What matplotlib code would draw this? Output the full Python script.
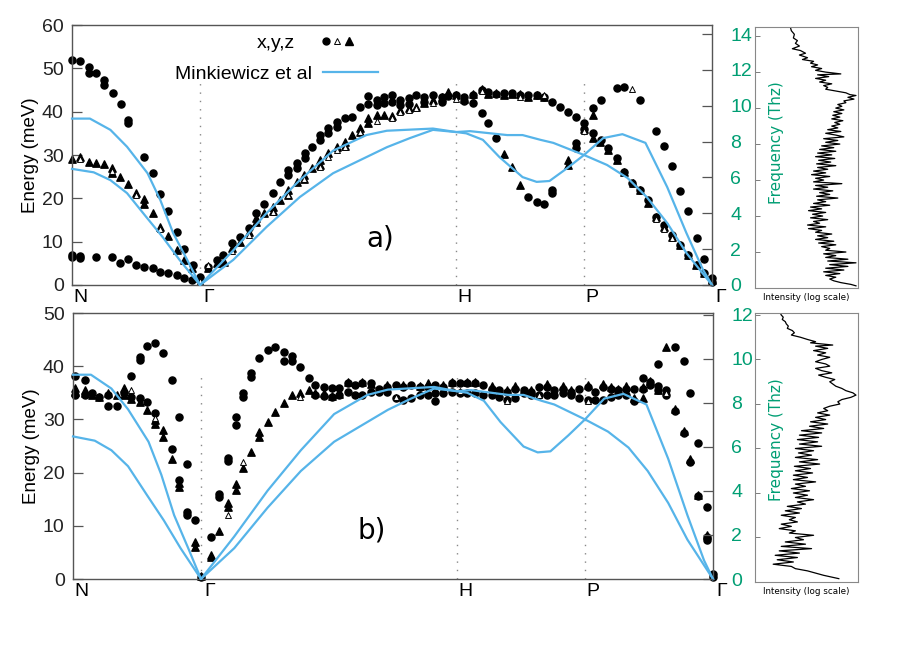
import numpy as np
import matplotlib
matplotlib.use("Agg")
import matplotlib.pyplot as plt
from matplotlib.lines import Line2D
from matplotlib.legend_handler import HandlerTuple
from matplotlib.transforms import ScaledTranslation

plt.rcParams['font.family'] = ['Liberation Sans', 'DejaVu Sans']

MEV_PER_THZ = 4.1357
GREEN = '#009E73'
BLUE = '#56B4E9'

# path positions: N=0, Gamma=1, H=3, P=4, Gamma=5
path_pos = [0, 1, 3, 4, 5]
path_labels = ['N', 'Γ', 'H', 'P', 'Γ']

# Minkiewicz et al dispersion (same curves in both panels)
mink1_q = [0, 0.14, 0.3, 0.43, 0.59, 0.69, 0.79, 0.9, 1.0, 1.26, 1.52, 1.78, 2.04, 2.3, 2.46, 2.82,
           3.0, 3.08, 3.21, 3.34, 3.52, 3.63, 3.73, 3.87, 4.0, 4.15, 4.3, 4.48, 4.65, 4.8, 4.93, 5.0]
mink1_e = [38.4, 38.4, 35.8, 31.9, 25.8, 19.6, 12.0, 5.8, 0, 8.0, 16.6, 24.2, 31.0, 34.6, 35.6, 36.1,
           35.3, 35.0, 33.5, 29.5, 24.9, 23.8, 24.0, 27.0, 30.0, 33.9, 34.8, 32.8, 22.6, 12.0, 3.5, 0]
mink2_q = [0, 0.17, 0.3, 0.43, 0.58, 0.71, 0.84, 1.0, 1.26, 1.52, 1.78, 2.04, 2.25, 2.46, 2.64, 2.82,
           3.0, 3.11, 3.4, 3.52, 3.66, 3.76, 4.0, 4.18, 4.34, 4.49, 4.65, 4.8, 5.0]
mink2_e = [26.8, 26.0, 24.2, 21.2, 15.7, 11.0, 5.8, 0, 5.8, 13.4, 20.3, 25.8, 28.8, 31.8, 33.9, 35.8,
           35.3, 35.5, 34.6, 34.6, 33.5, 32.8, 30.0, 27.7, 24.7, 20.3, 14.3, 7.4, 0]

# panel a) measured points (q, energy meV)
a_x = np.array([
    (0, 51.9), (0.06, 51.7), (0.13, 50.3), (0.13, 48.9), (0.19, 48.9), (0.25, 47.3), (0.25, 46.2),
    (0.32, 44.3), (0.38, 41.8), (0.44, 38.1), (0.44, 37.5), (0.56, 29.5), (0.63, 25.8), (0.69, 21.0),
    (0.75, 17.1), (0.82, 12.2), (0.875, 8.3), (0.945, 4.6), (1.0, 1.8),
    (0, 6.9), (0, 6.5), (0.06, 6.7), (0.06, 6.3), (0.19, 6.5), (0.31, 6.5), (0.375, 5.0), (0.44, 6.0),
    (0.5, 4.6), (0.56, 4.2), (0.63, 3.9), (0.69, 3.0), (0.75, 2.8), (0.82, 2.3), (0.875, 1.6), (0.94, 1.2),
    (1.06, 4.2), (1.13, 5.8), (1.18, 6.9), (1.25, 9.7), (1.31, 11.1), (1.38, 13.2), (1.44, 16.6),
    (1.5, 18.7), (1.57, 21.2), (1.625, 23.8), (1.69, 26.5), (1.76, 28.2), (1.82, 30.5), (1.875, 31.8),
    (1.94, 34.6), (2.0, 36.2), (2.07, 37.6), (2.13, 38.5), (2.19, 38.8), (2.25, 41.1), (2.31, 43.6),
    (2.31, 41.8), (2.38, 42.7), (2.44, 43.4), (2.5, 43.8), (2.56, 42.7), (2.63, 43.1), (2.69, 43.8),
    (2.75, 43.4), (2.82, 43.8), (2.89, 43.4), (2.94, 43.6), (3.0, 43.8), (3.06, 43.4), (3.13, 43.8),
    (3.2, 45.0), (3.25, 44.6), (3.31, 44.0), (3.375, 44.3), (3.44, 44.3), (3.5, 43.8), (3.56, 43.8),
    (3.63, 43.8), (3.69, 43.4), (3.75, 42.3), (3.81, 41.1), (3.875, 40.0), (3.94, 38.8), (4.0, 37.4),
    (1.69, 25.4), (1.76, 27.0), (1.82, 29.3), (1.94, 33.5), (2.0, 35.0), (2.07, 36.5), (2.38, 41.5),
    (2.44, 42.0), (2.5, 42.3), (2.56, 41.5), (2.63, 41.8), (2.75, 42.2), (2.89, 42.3), (3.06, 42.5),
    (4.0, 36.0),
    (4.07, 35.0), (4.13, 33.5), (4.19, 31.6), (4.26, 29.3), (4.31, 26.1), (4.375, 23.5), (4.44, 21.9),
    (4.5, 19.6), (4.56, 15.7), (4.625, 13.8), (4.69, 11.5), (4.75, 9.2), (4.81, 6.9), (4.88, 4.6),
    (4.94, 2.8), (5.0, 0.7),
    (4.07, 40.8), (4.13, 42.7), (4.26, 45.4), (4.31, 45.7), (4.44, 42.7), (4.56, 35.5), (4.625, 32.1),
    (4.69, 27.5), (4.75, 21.7), (4.81, 17.1), (4.88, 10.8), (4.94, 6.0), (5.0, 1.6),
    (3.13, 42.0), (3.2, 39.7), (3.25, 37.4), (3.31, 33.9), (3.56, 20.3), (3.63, 19.2), (3.69, 18.7),
    (3.75, 21.9), (3.75, 21.2), (3.94, 32.8), (3.94, 31.5),
])
a_y = np.array([
    (1.0, 1.0), (1.06, 4.5), (1.25, 7.8), (1.38, 11.5), (1.57, 16.8), (1.69, 20.8), (1.81, 24.4),
    (1.94, 27.3), (2.0, 29.5), (2.07, 31.2), (2.13, 31.8), (2.25, 35.2), (2.38, 37.8), (2.5, 38.6),
    (2.56, 40.0), (2.63, 40.4), (2.69, 40.8), (2.82, 42.0), (3.0, 43.0), (3.2, 44.8), (3.5, 43.5),
    (3.69, 43.8), (4.0, 35.5), (4.375, 45.2), (4.56, 15.2), (4.625, 13.0), (4.69, 10.8),
    (0.06, 29.0), (0.31, 26.3), (0.5, 20.8), (0.69, 13.0),
])
a_z = np.array([
    (0, 29.1), (0.06, 29.5), (0.13, 28.4), (0.19, 28.1), (0.25, 27.9), (0.31, 27.0), (0.31, 25.8),
    (0.375, 25.0), (0.44, 23.3), (0.5, 21.2), (0.56, 19.8), (0.56, 18.6), (0.63, 16.6), (0.69, 13.4),
    (0.75, 11.3), (0.82, 8.1), (0.875, 5.8), (0.94, 3.9), (1.0, 1.6),
    (1.06, 3.9), (1.13, 5.0), (1.19, 5.3), (1.25, 8.5), (1.31, 9.9), (1.38, 12.2), (1.44, 14.5),
    (1.5, 16.6), (1.57, 18.0), (1.625, 19.6), (1.69, 21.9), (1.76, 23.8), (1.81, 25.4), (1.875, 27.0),
    (1.94, 28.8), (2.0, 30.5), (2.07, 31.8), (2.13, 33.0), (2.19, 34.6), (2.25, 36.2), (2.31, 38.5),
    (2.38, 39.2), (2.44, 39.2), (2.5, 39.0), (2.56, 40.4), (2.63, 40.8), (2.69, 41.1), (2.75, 42.0),
    (2.82, 42.7), (2.89, 43.4), (2.94, 44.5), (3.0, 43.8), (3.06, 43.0), (3.13, 44.0), (3.2, 45.2),
    (3.25, 44.0), (3.31, 44.2), (3.375, 43.8), (3.44, 44.0), (3.5, 44.0), (3.56, 43.5), (3.63, 43.8),
    (3.69, 43.5),
    (1.44, 15.5), (1.57, 17.0), (1.69, 20.8), (1.81, 24.5), (1.94, 27.8), (2.13, 32.0), (2.25, 35.2),
    (2.31, 37.5),
    (3.375, 30.2), (3.44, 27.2), (3.5, 23.1), (3.875, 28.8), (3.875, 27.8),
    (4.0, 36.0), (4.07, 39.2), (4.07, 34.0),
    (4.125, 33.0), (4.19, 31.2), (4.26, 28.8), (4.31, 26.1), (4.38, 23.5), (4.44, 21.9), (4.5, 18.9),
    (4.56, 15.7), (4.625, 13.4), (4.69, 11.1), (4.75, 9.2), (4.81, 6.9), (4.875, 4.6), (4.94, 2.8),
    (5.0, 1.2),
])

# panel b) measured points
b_x = np.array([
    (0.016, 38.2), (0.09, 37.4), (0.016, 34.6), (0.09, 34.6), (0.15, 35.0), (0.2, 34.2), (0.27, 34.6),
    (0.27, 32.5), (0.34, 32.5), (0.4, 35.0), (0.45, 34.2), (0.52, 34.0), (0.58, 33.3),
    (0.45, 38.2), (0.52, 41.2), (0.52, 41.8), (0.58, 43.8), (0.64, 44.4), (0.70, 42.5), (0.77, 37.4),
    (0.83, 30.5), (0.89, 21.6), (0.95, 11.1), (1.0, 0.4),
    (0.64, 31.2), (0.77, 24.4), (0.83, 18.6), (0.89, 12.6), (0.89, 12.0),
    (1.08, 7.9), (1.14, 15.4), (1.14, 16.0), (1.21, 22.7), (1.21, 22.1), (1.27, 30.5), (1.27, 29.0),
    (1.33, 35.0), (1.33, 34.2), (1.39, 38.7), (1.39, 38.0), (1.45, 41.5), (1.52, 43.0), (1.58, 43.6),
    (1.65, 42.7), (1.65, 40.9), (1.71, 42.0), (1.71, 41.0), (1.77, 39.9), (1.84, 37.8), (1.89, 36.5),
    (1.96, 36.1), (2.02, 35.9), (2.08, 35.9), (1.89, 34.6), (1.96, 34.4), (2.02, 34.3), (2.08, 34.6),
    (2.15, 36.8), (2.15, 35.1), (2.2, 36.5), (2.2, 34.6), (2.26, 36.8), (2.26, 34.6), (2.33, 36.8),
    (2.33, 35.2), (2.39, 35.8), (2.39, 35.2), (2.45, 36.1), (2.45, 35.2), (2.52, 36.5), (2.52, 34.0),
    (2.58, 36.1), (2.58, 33.6), (2.64, 36.5), (2.64, 34.0), (2.71, 36.1), (2.71, 34.6), (2.77, 36.1),
    (2.77, 34.6), (2.83, 36.5), (2.83, 35.0), (2.83, 33.5), (2.89, 36.1), (2.89, 34.9), (2.96, 36.8),
    (2.96, 35.2), (3.02, 36.8), (3.02, 34.9), (3.08, 36.8), (3.08, 34.9), (3.14, 36.8), (3.14, 34.9),
    (3.2, 36.5), (3.2, 34.6), (3.27, 35.8), (3.27, 34.6), (3.33, 35.5), (3.33, 34.3), (3.39, 35.2),
    (3.39, 33.7), (3.45, 35.8), (3.45, 34.0), (3.52, 35.5), (3.52, 34.9), (3.58, 35.2), (3.58, 34.6),
    (3.64, 36.1), (3.64, 34.6), (3.70, 36.1), (3.70, 34.6), (3.76, 35.5), (3.76, 34.6), (3.83, 35.8),
    (3.83, 35.0), (3.89, 35.2), (3.89, 34.6), (3.95, 35.8), (3.95, 34.0), (4.02, 36.1), (4.02, 33.7),
    (4.08, 35.2), (4.08, 33.7), (4.14, 36.1), (4.14, 33.7), (4.2, 35.8), (4.2, 34.3), (4.26, 35.5),
    (4.26, 34.6), (4.32, 35.8), (4.32, 34.6), (4.38, 35.8), (4.38, 33.4),
    (4.45, 37.7), (4.45, 35.8), (4.51, 37.0), (4.51, 36.5), (4.57, 36.3), (4.57, 35.5), (4.57, 40.5),
    (4.63, 35.6), (4.63, 34.6), (4.70, 43.6), (4.70, 31.6), (4.77, 41.0), (4.77, 27.4), (4.82, 35.0),
    (4.82, 22.0), (4.88, 25.6), (4.88, 15.6), (4.95, 13.5), (4.95, 7.9), (4.95, 7.3), (5.0, 0.4),
    (5.0, 0.9),
])
b_y = np.array([
    (0.45, 35.5), (0.64, 30.3), (1.21, 12.0), (1.33, 22.0), (1.77, 34.3), (2.52, 34.2), (3.02, 35.4),
    (3.39, 33.5), (3.64, 34.6), (4.02, 33.4), (4.63, 35.0),
])
b_z = np.array([
    (0.016, 35.9), (0.016, 35.2), (0.09, 35.5), (0.09, 35.0), (0.15, 34.6), (0.2, 34.2), (0.27, 35.0),
    (0.34, 34.6), (0.4, 35.9), (0.4, 34.6), (0.45, 33.8), (0.52, 33.2), (0.58, 31.8), (0.64, 29.9),
    (0.64, 29.2), (0.70, 28.0), (0.70, 26.7), (0.77, 22.6), (0.83, 18.0), (0.83, 17.3), (0.95, 7.0),
    (0.95, 6.0), (1.0, 0.6),
    (1.08, 4.1), (1.08, 4.6), (1.14, 9.0), (1.21, 13.5), (1.21, 14.2), (1.27, 16.7), (1.27, 17.8),
    (1.33, 20.8), (1.39, 23.9), (1.45, 26.7), (1.45, 27.6), (1.52, 29.5), (1.58, 31.4), (1.65, 33.0),
    (1.71, 34.6), (1.77, 35.0), (1.84, 35.5), (1.89, 35.0), (1.96, 35.0), (2.02, 34.4), (2.08, 34.8),
    (2.15, 37.0), (2.26, 37.0), (2.33, 36.6), (2.45, 36.4), (2.58, 36.5), (2.71, 36.3), (2.77, 36.8),
    (2.89, 36.4), (2.96, 37.0), (3.08, 37.1), (3.14, 37.0), (3.27, 36.3), (3.39, 35.5), (3.45, 36.3),
    (3.58, 35.6), (3.70, 36.6), (3.83, 36.2), (3.89, 35.5), (4.02, 36.5), (4.14, 36.6), (4.2, 36.0),
    (4.26, 35.8), (4.32, 36.3), (4.38, 34.0), (4.45, 34.0),
    (4.45, 36.0), (4.51, 37.2), (4.57, 35.6), (4.63, 43.6), (4.70, 31.9), (4.77, 27.8), (4.82, 22.5),
    (4.88, 15.8), (4.95, 8.3),
])

# side panels: phonon density of states, (frequency THz, intensity 0..1 of panel width)
dos_a = np.array([
    (14.5, 0.35), (14.3, 0.36), (14.1, 0.39), (13.9, 0.38), (13.75, 0.42), (13.6, 0.40), (13.45, 0.44),
    (13.3, 0.37), (13.2, 0.45), (13.05, 0.50), (12.95, 0.44), (12.8, 0.52), (12.7, 0.47), (12.6, 0.58),
    (12.5, 0.55), (12.4, 0.62), (12.3, 0.56), (12.2, 0.66), (12.1, 0.60), (12.0, 0.70), (11.9, 0.85),
    (11.85, 0.62), (11.75, 0.73), (11.65, 0.60), (11.55, 0.70), (11.45, 0.64), (11.35, 0.76),
    (11.25, 0.68), (11.15, 0.72), (11.05, 0.70), (10.95, 0.80), (10.85, 0.90), (10.75, 0.94),
    (10.7, 1.0), (10.6, 0.92), (10.5, 0.98), (10.4, 0.88), (10.3, 0.90), (10.2, 0.82), (10.1, 0.86),
    (10.0, 0.80), (9.9, 0.88), (9.8, 0.78), (9.7, 0.86), (9.6, 0.77), (9.5, 0.84), (9.4, 0.76),
    (9.3, 0.87), (9.2, 0.79), (9.1, 0.84), (9.0, 0.76), (8.9, 0.82), (8.8, 0.72), (8.7, 0.85),
    (8.6, 0.70), (8.5, 0.80), (8.4, 0.88), (8.3, 0.68), (8.2, 0.82), (8.1, 0.70), (8.0, 0.84),
    (7.9, 0.66), (7.8, 0.78), (7.7, 0.64), (7.6, 0.80), (7.5, 0.62), (7.4, 0.76), (7.3, 0.60),
    (7.2, 0.79), (7.1, 0.63), (7.0, 0.75), (6.9, 0.61), (6.8, 0.80), (6.7, 0.62), (6.6, 0.72),
    (6.5, 0.58), (6.4, 0.70), (6.3, 0.56), (6.2, 0.74), (6.1, 0.60), (6.0, 0.68), (5.9, 0.58),
    (5.8, 0.86), (5.7, 0.60), (5.6, 0.72), (5.5, 0.58), (5.4, 0.77), (5.3, 0.64), (5.2, 0.74),
    (5.1, 0.61), (5.0, 0.82), (4.9, 0.62), (4.8, 0.70), (4.7, 0.58), (4.6, 0.74), (4.5, 0.55),
    (4.4, 0.66), (4.3, 0.53), (4.2, 0.70), (4.1, 0.57), (4.0, 0.67), (3.9, 0.55), (3.8, 0.72),
    (3.7, 0.58), (3.6, 0.64), (3.5, 0.52), (3.4, 0.70), (3.3, 0.53), (3.2, 0.66), (3.1, 0.60),
    (3.0, 0.76), (2.9, 0.62), (2.8, 0.72), (2.7, 0.60), (2.6, 0.78), (2.5, 0.63), (2.4, 0.80),
    (2.3, 0.66), (2.2, 0.74), (2.1, 0.70), (2.0, 0.90), (1.9, 0.68), (1.8, 0.80), (1.7, 0.70),
    (1.6, 0.92), (1.5, 0.72), (1.4, 1.0), (1.3, 0.74), (1.2, 0.92), (1.1, 0.70), (1.0, 0.88),
    (0.9, 0.68), (0.8, 0.84), (0.7, 0.70), (0.6, 0.80), (0.5, 0.74), (0.4, 0.78), (0.3, 0.85),
    (0.2, 0.95), (0.12, 1.0),
])
dos_b = np.array([
    (12.1, 0.25), (12.0, 0.26), (11.9, 0.28), (11.8, 0.27), (11.7, 0.30), (11.6, 0.31), (11.5, 0.33),
    (11.4, 0.32), (11.3, 0.37), (11.2, 0.39), (11.1, 0.36), (11.0, 0.45), (10.9, 0.52), (10.8, 0.60),
    (10.75, 0.55), (10.65, 0.77), (10.6, 0.60), (10.5, 0.72), (10.4, 0.58), (10.3, 0.70), (10.2, 0.62),
    (10.1, 0.74), (10.0, 0.66), (9.9, 0.60), (9.8, 0.70), (9.7, 0.74), (9.6, 0.60), (9.5, 0.66),
    (9.4, 0.76), (9.3, 0.63), (9.2, 0.70), (9.1, 0.79), (9.0, 0.74), (8.9, 0.77), (8.8, 0.80),
    (8.7, 0.86), (8.6, 0.90), (8.5, 0.97), (8.4, 1.0), (8.3, 0.95), (8.2, 0.86), (8.1, 0.82),
    (8.0, 0.84), (7.9, 0.74), (7.8, 0.68), (7.7, 0.72), (7.6, 0.62), (7.5, 0.74), (7.4, 0.60),
    (7.3, 0.70), (7.2, 0.55), (7.1, 0.72), (7.0, 0.54), (6.9, 0.68), (6.8, 0.46), (6.7, 0.66),
    (6.6, 0.44), (6.5, 0.63), (6.4, 0.42), (6.3, 0.62), (6.2, 0.44), (6.1, 0.66), (6.0, 0.40),
    (5.9, 0.58), (5.8, 0.43), (5.7, 0.56), (5.6, 0.40), (5.5, 0.62), (5.4, 0.44), (5.3, 0.64),
    (5.2, 0.39), (5.1, 0.55), (5.0, 0.40), (4.9, 0.57), (4.8, 0.38), (4.7, 0.52), (4.6, 0.38),
    (4.5, 0.60), (4.4, 0.40), (4.3, 0.50), (4.2, 0.36), (4.1, 0.54), (4.0, 0.38), (3.9, 0.52),
    (3.8, 0.40), (3.7, 0.58), (3.6, 0.42), (3.5, 0.50), (3.4, 0.32), (3.3, 0.46), (3.2, 0.30),
    (3.1, 0.44), (3.0, 0.26), (2.9, 0.40), (2.8, 0.34), (2.7, 0.42), (2.6, 0.26), (2.5, 0.36),
    (2.4, 0.24), (2.3, 0.40), (2.2, 0.34), (2.1, 0.58), (2.0, 0.40), (1.9, 0.48), (1.8, 0.30),
    (1.7, 0.50), (1.6, 0.26), (1.5, 0.56), (1.4, 0.24), (1.3, 0.44), (1.2, 0.20), (1.1, 0.42),
    (1.0, 0.22), (0.9, 0.38), (0.8, 0.18), (0.7, 0.36), (0.6, 0.40), (0.5, 0.52), (0.4, 0.60),
    (0.3, 0.68), (0.22, 0.76), (0.15, 0.83),
])

W, H = 897, 654
fig = plt.figure(figsize=(W / 100, H / 100), dpi=100)


def box(l, t, r, b):
    return [l / W, 1 - b / H, (r - l) / W, (b - t) / H]


ax_a = fig.add_axes(box(72, 25, 712, 285))
ax_b = fig.add_axes(box(73, 313, 713, 579))
side_a = fig.add_axes(box(755, 27, 858, 288))
side_b = fig.add_axes(box(755, 313, 858, 582))


def draw_main(ax, circ, opn, fill, emax, tag, tagxy):
    ax.scatter(circ[:, 0], circ[:, 1], s=26, marker='o', color='black', zorder=2, clip_on=False)
    ax.scatter(fill[:, 0], fill[:, 1], s=28, marker='^', color='black', zorder=2, clip_on=False)
    ax.scatter(opn[:, 0], opn[:, 1], s=18, marker='^', facecolor='white', edgecolor='black',
               linewidth=0.7, zorder=2, clip_on=False)
    ax.plot(mink1_q, mink1_e, color=BLUE, lw=1.6, zorder=3, clip_on=False)
    ax.plot(mink2_q, mink2_e, color=BLUE, lw=1.6, zorder=3, clip_on=False)
    for q in path_pos[1:4]:
        ax.axvline(q, ymax=0.78, color='#888888', lw=1.0, ls=(0, (1, 5)), zorder=1)

    ax.set_xlim(0, 5)
    ax.set_ylim(0, emax)
    ax.set_xticks(path_pos)
    ax.set_xticklabels(path_labels, fontsize=14)
    ax.tick_params(axis='x', length=0, pad=3)
    for lbl in ax.get_xticklabels():
        lbl.set_transform(lbl.get_transform() + ScaledTranslation(6 / 72, 0, fig.dpi_scale_trans))
    ax.set_yticks(np.arange(0, emax + 1, 10))
    ax.tick_params(axis='y', direction='in', length=7, width=0.9, color='#555555',
                   labelsize=14, labelcolor='#222222', pad=6)
    ax.set_ylabel('Energy (meV)', fontsize=13.5, labelpad=2)
    for sp in ax.spines.values():
        sp.set_color('#555555')
        sp.set_linewidth(1.0)

    ax2 = ax.twinx()
    fmax = emax / MEV_PER_THZ
    ax2.set_ylim(0, fmax)
    ax2.set_yticks(np.arange(0, fmax, 2))
    ax2.tick_params(axis='y', direction='in', length=7, width=0.9, color='#555555',
                    labelsize=14, labelcolor=GREEN, pad=13)
    for sp in ax2.spines.values():
        sp.set_visible(False)

    ax.text(tagxy[0], tagxy[1], tag, transform=ax.transAxes, fontsize=20,
            family='DejaVu Sans', ha='center', va='center')
    return fmax


def draw_side(ax, dos, fmax, label_y):
    ax.plot(dos[:, 1], dos[:, 0], color='black', lw=0.9)
    ax.set_xlim(0, 1.02)
    ax.set_ylim(0, fmax)
    ax.set_xticks([])
    ax.set_yticks(np.arange(2, fmax, 2))
    ax.tick_params(axis='y', direction='in', length=3.5, width=0.6, color='#666666', labelleft=False)
    for sp in ax.spines.values():
        sp.set_color('#888888')
        sp.set_linewidth(0.8)
    ax.set_xlabel('Intensity (log scale)', fontsize=6.3, family='DejaVu Sans', labelpad=3.5)
    ax.text(0.21, label_y, 'Frequency (Thz)', transform=ax.transAxes, rotation=90,
            color=GREEN, fontsize=11, family='DejaVu Sans', ha='center', va='center')


fmax_a = draw_main(ax_a, a_x, a_y, a_z, 60, 'a)', (0.481, 0.18))
fmax_b = draw_main(ax_b, b_x, b_y, b_z, 50, 'b)', (0.467, 0.184))
draw_side(side_a, dos_a, fmax_a, 0.556)
draw_side(side_b, dos_b, fmax_b, 0.528)

# legend (gnuplot style: text first, then symbol)
h_xyz = (Line2D([], [], marker='o', color='black', ls='', ms=5),
         Line2D([], [], marker='^', mfc='white', mec='black', mew=0.7, ls='', ms=4.2),
         Line2D([], [], marker='^', color='black', ls='', ms=5.3))
leg1 = ax_a.legend([h_xyz], ['x,y,z'], handler_map={tuple: HandlerTuple(ndivide=None, pad=0)},
                   loc='center right', bbox_to_anchor=(0.442, 0.93), frameon=False,
                   markerfirst=False, fontsize=14, handlelength=1.8, handletextpad=1.3,
                   borderpad=0, borderaxespad=0)
ax_a.add_artist(leg1)
h_mink = Line2D([], [], color=BLUE, lw=1.6)
ax_a.legend([h_mink], ['Minkiewicz et al'], loc='center right', bbox_to_anchor=(0.478, 0.81),
            frameon=False, markerfirst=False, fontsize=14, handlelength=2.8, handletextpad=0.6,
            borderpad=0, borderaxespad=0)

fig.savefig('out.png', dpi=100)
